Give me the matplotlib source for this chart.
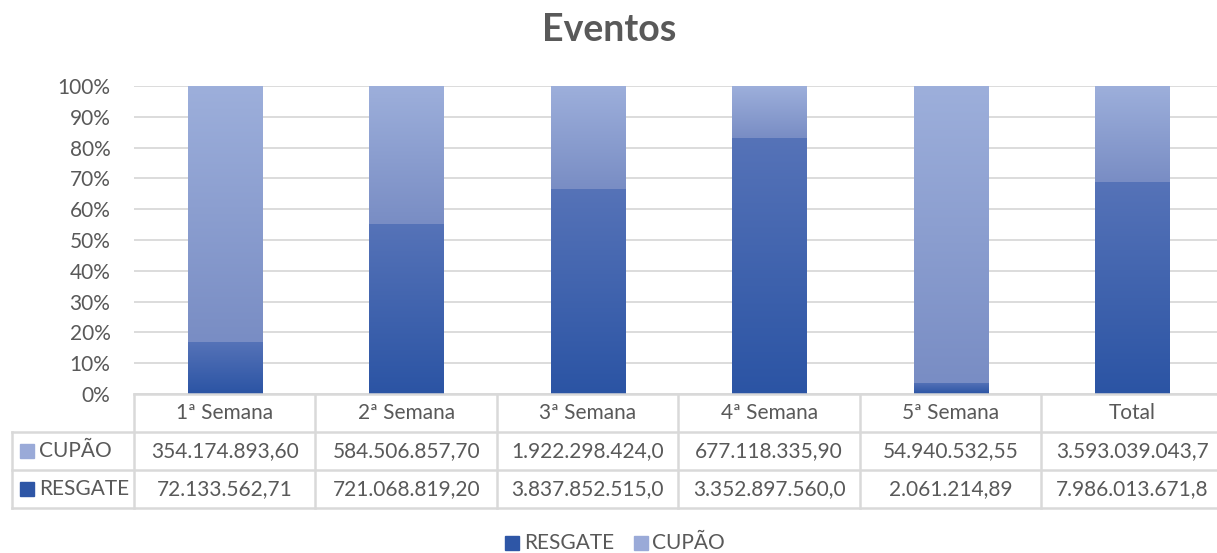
import numpy as np
import matplotlib.pyplot as plt
from matplotlib.colors import LinearSegmentedColormap
from matplotlib.patches import Rectangle

plt.rcParams['font.family'] = ['Lato', 'DejaVu Sans']

categories = ['1ª Semana', '2ª Semana', '3ª Semana', '4ª Semana', '5ª Semana', 'Total']
cupao = [354174893.60, 584506857.70, 1922298424.0, 677118335.90, 54940532.55, 3593039043.7]
resgate = [72133562.71, 721068819.20, 3837852515.0, 3352897560.0, 2061214.89, 7986013671.8]
yticks = [0, 10, 20, 30, 40, 50, 60, 70, 80, 90, 100]

text_color = '#595959'
grid_color = '#d9d9d9'
resgate_top, resgate_bot = '#5673b8', '#2b54a4'
cupao_top, cupao_bot = '#9dafdb', '#798dc4'
fs = 15


def fmt_br(v):
    s = f'{v:,.2f}'.replace(',', 'X').replace('.', ',').replace('X', '.')
    return s[:15]  # cell clips long numbers


def gradient_fill(ax, bar, top, bot):
    cmap = LinearSegmentedColormap.from_list('g', [bot, top])
    x0, y0 = bar.get_x(), bar.get_y()
    w, h = bar.get_width(), bar.get_height()
    grad = np.linspace(0, 1, 256).reshape(-1, 1)
    im = ax.imshow(grad, cmap=cmap, origin='lower', aspect='auto',
                   extent=(x0, x0 + w, y0, y0 + h), zorder=3)
    im.set_clip_path(bar)


W, H = 1217, 553
fig = plt.figure(figsize=(W / 100, H / 100), dpi=100)

left_px, right_px = 134, 1223
top_px, bottom_px = 86, 394
ax = fig.add_axes([left_px / W, 1 - bottom_px / H, (right_px - left_px) / W, (bottom_px - top_px) / H])

res = np.array(resgate)
cup = np.array(cupao)
tot = res + cup
res_pct = res / tot * 100
cup_pct = cup / tot * 100

x = np.arange(len(categories))
width = 0.41
bars_r = ax.bar(x, res_pct, width, color='none', zorder=3)
bars_c = ax.bar(x, cup_pct, width, bottom=res_pct, color='none', zorder=3)
for b in bars_r:
    gradient_fill(ax, b, resgate_top, resgate_bot)
for b in bars_c:
    gradient_fill(ax, b, cupao_top, cupao_bot)

ax.set_xlim(-0.5, len(categories) - 0.5)
ax.set_ylim(0, 100)
ax.set_yticks(yticks)
ax.set_yticklabels([f'{t}%' for t in yticks])
ax.set_xticks([])
ax.tick_params(axis='y', length=0, labelsize=fs, labelcolor=text_color, pad=17)
ax.yaxis.grid(True, color=grid_color, linewidth=1.3, zorder=0)
ax.set_axisbelow(True)
for s in ax.spines.values():
    s.set_visible(False)

fig.text(609 / W, 1 - 30 / H, 'Eventos', ha='center', va='center',
         fontsize=27, fontweight='bold', color=text_color)

# data table under the plot
col_w = (right_px - left_px) / len(categories)
hdr_w = (left_px - 12) / col_w
tab = fig.add_axes([12 / W, 1 - 508 / H, (right_px - 12) / W, (508 - 394) / H])
tab.set_xlim(-0.5 - hdr_w, len(categories) - 0.5)
tab.set_ylim(0, 3)
tab.axis('off')

lw = 1.8
tab.plot([-0.5, len(categories) - 0.5], [3, 3], color=grid_color, lw=lw, clip_on=False)
for k in range(len(categories) + 1):
    tab.plot([k - 0.5, k - 0.5], [0, 3], color=grid_color, lw=lw, clip_on=False)
for yy in [0, 1, 2]:
    tab.plot([-0.5 - hdr_w, len(categories) - 0.5], [yy, yy], color=grid_color, lw=lw, clip_on=False)
tab.plot([-0.5 - hdr_w, -0.5 - hdr_w], [0, 2], color=grid_color, lw=lw, clip_on=False)

for i, c in enumerate(categories):
    tab.text(i, 2.5, c, ha='center', va='center', fontsize=fs, color=text_color)
    tab.text(i, 1.5, fmt_br(cupao[i]), ha='center', va='center', fontsize=fs, color=text_color)
    tab.text(i, 0.5, fmt_br(resgate[i]), ha='center', va='center', fontsize=fs, color=text_color)

sq = 14 / col_w
row_h = 38 / 3  # px per table row unit... used for square height
for yy, name, col in [(1.5, 'CUPÃO', '#9aaad8'), (0.5, 'RESGATE', '#2e56a6')]:
    tab.add_patch(Rectangle((-0.5 - hdr_w + 8 / col_w, yy - 7 / 38), sq, 14 / 38,
                            color=col, clip_on=False))
    tab.text(-0.5 - hdr_w + 27 / col_w, yy, name, ha='left', va='center',
             fontsize=fs, color=text_color)

# legend
fig.patches.append(Rectangle((505 / W, 1 - 550 / H), 14 / W, 14 / H, color='#2e56a6',
                             transform=fig.transFigure, figure=fig))
fig.text(524 / W, 1 - 543 / H, 'RESGATE', ha='left', va='center', fontsize=fs, color=text_color)
fig.patches.append(Rectangle((634 / W, 1 - 550 / H), 14 / W, 14 / H, color='#9aaad8',
                             transform=fig.transFigure, figure=fig))
fig.text(652 / W, 1 - 543 / H, 'CUPÃO', ha='left', va='center', fontsize=fs, color=text_color)

fig.savefig('out.png', dpi=100)
